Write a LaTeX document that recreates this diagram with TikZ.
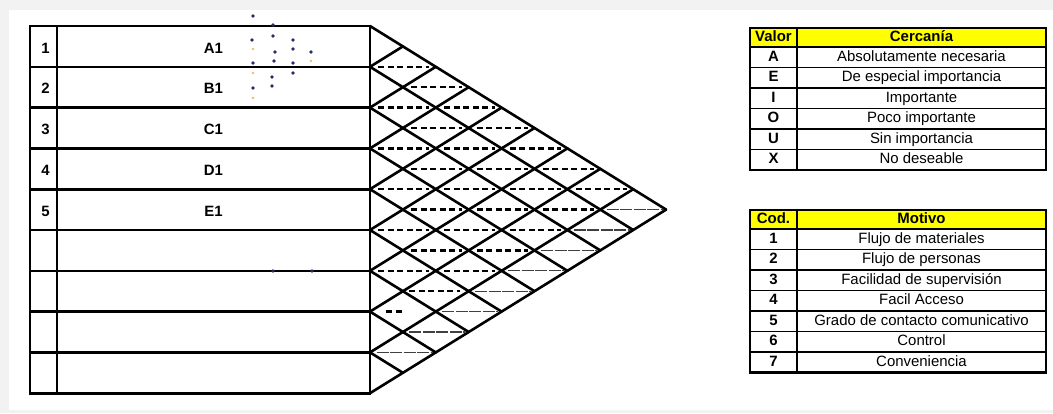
\documentclass[tikz,border=0pt]{standalone}
\usepackage{fontspec}
\setmainfont{Liberation Sans}
\usepackage{xcolor}
\definecolor{cellyellow}{HTML}{FFFF00}
\definecolor{pagegray}{HTML}{F2F2F2}
\definecolor{specknavy}{HTML}{2A2A6A}
\definecolor{speckgold}{HTML}{E8C060}
\usetikzlibrary{positioning}

\begin{document}
\begin{tikzpicture}[
  x=1bp, y=-1bp,
  gridline/.style={line width=2.6bp, line cap=rect},
  trianline/.style={line width=2.6bp, line cap=round},
  heavyrel/.style={line width=2.5bp, dash pattern=on 6bp off 3.5bp},
  thinrel/.style={line width=1.2bp, black!75, dash pattern=on 12bp off 1.5bp},
  lightrel/.style={line width=1.5bp, dash pattern=on 6bp off 3.5bp},
  rowlabel/.style={font=\fontsize{15}{18}\selectfont\bfseries, inner sep=0pt},
  cell/.style={draw, line width=1.5bp, outer sep=0pt, inner sep=1bp,
    minimum height=20.5bp, text height=11bp, text depth=3bp,
    font=\fontsize{15}{18}\selectfont},
  keycell/.style={cell, minimum width=47bp, font=\fontsize{15}{18}\selectfont\bfseries},
  textcell/.style={cell, minimum width=249bp},
  headcell/.style={fill=cellyellow, minimum height=19bp,
    font=\fontsize{15}{18}\selectfont\bfseries}
]
\def\rh{40.8}
\def\dx{32.9}

\fill[pagegray] (0,0) rectangle (1053,413);
\fill[white] (9,10) rectangle (1053,410);

\foreach \k in {0,...,9}
  \draw[gridline] (30,26+\k*\rh) -- (370,26+\k*\rh);
\draw[gridline] (30,26) -- (30,393.2) (57,26) -- (57,393.2) (370,26) -- (370,393.2);

\foreach \k in {0,...,8}
  \draw[trianline] (370,26+\k*\rh) -- ++({(9-\k)*\dx},{(9-\k)*\rh/2});
\foreach \k in {1,...,9}
  \draw[trianline] (370,26+\k*\rh) -- ++({\k*\dx},{-\k*\rh/2});

\foreach \i in {1,...,8}
  \foreach \j in {\i,...,8} {
    \pgfmathsetmacro\cx{370+(\j+1-\i)*\dx}
    \pgfmathsetmacro\cy{26+(\i+\j)*\rh/2}
    \ifnum\j=8
      \draw[thinrel] (\cx-0.8*\dx,\cy) -- (\cx+0.9*\dx,\cy);
    \else\ifnum\i\j=67
      \draw[lightrel] (\cx-0.8*\dx,\cy) -- (\cx+0.75*\dx,\cy);
    \else\ifnum\i\j=77
      \draw[heavyrel] (\cx-0.5*\dx,\cy) -- (\cx+0.05*\dx,\cy);
    \else
      \draw[heavyrel] (\cx-0.75*\dx,\cy) -- (\cx+0.8*\dx,\cy);
    \fi\fi\fi
  }

\foreach \n/\lab in {1/A1, 2/B1, 3/C1, 4/D1, 5/E1} {
  \node[rowlabel] (num\n) at (45.5,{26+(\n-0.5)*\rh+1.5}) {\n};
  \node[rowlabel] (row\n) at (213.5,{26+(\n-0.5)*\rh+1.5}) {\lab};
}

\foreach \p in {(253,16),(273,25),(273,36),(252,40),(293,40),(293,49),(275,52),
    (311,52),(253,63),(274,61),(293,63),(293,73),(272,77),(272,86),(253,88),
    (273,271),(312,271)}
  \fill[specknavy] \p circle (1.8bp);
\foreach \p in {(253,49),(311,61),(253,73),(253,98)}
  \fill[speckgold] \p circle (1.3bp);

\node[keycell, headcell, anchor=north west] (valhead) at (750,28) {Valor};
\node[textcell, headcell, right=0pt of valhead] (cerhead) {Cercanía};
\foreach \v/\txt [remember=\v as \prev (initially head)] in {
    A/Absolutamente necesaria, E/De especial importancia, I/Importante,
    O/Poco importante, U/Sin importancia, X/No deseable} {
  \node[keycell, below=0pt of val\prev] (val\v) {\v};
  \node[textcell, below=0pt of cer\prev] (cer\v) {\txt};
}
\draw[line width=2.8bp] (valhead.north west) rectangle (cerX.south east);

\node[keycell, headcell, anchor=north west] (codhead) at (750,210) {Cod.};
\node[textcell, headcell, right=0pt of codhead] (mothead) {Motivo};
\foreach \c/\txt [remember=\c as \prev (initially head)] in {
    1/Flujo de materiales, 2/Flujo de personas, 3/Facilidad de supervisión,
    4/Facil Acceso, 5/Grado de contacto comunicativo, 6/Control,
    7/Conveniencia} {
  \node[keycell, below=0pt of cod\prev] (cod\c) {\c};
  \node[textcell, below=0pt of mot\prev] (mot\c) {\txt};
}
\draw[line width=2.8bp] (codhead.north west) rectangle (mot7.south east);

\end{tikzpicture}
\end{document}
